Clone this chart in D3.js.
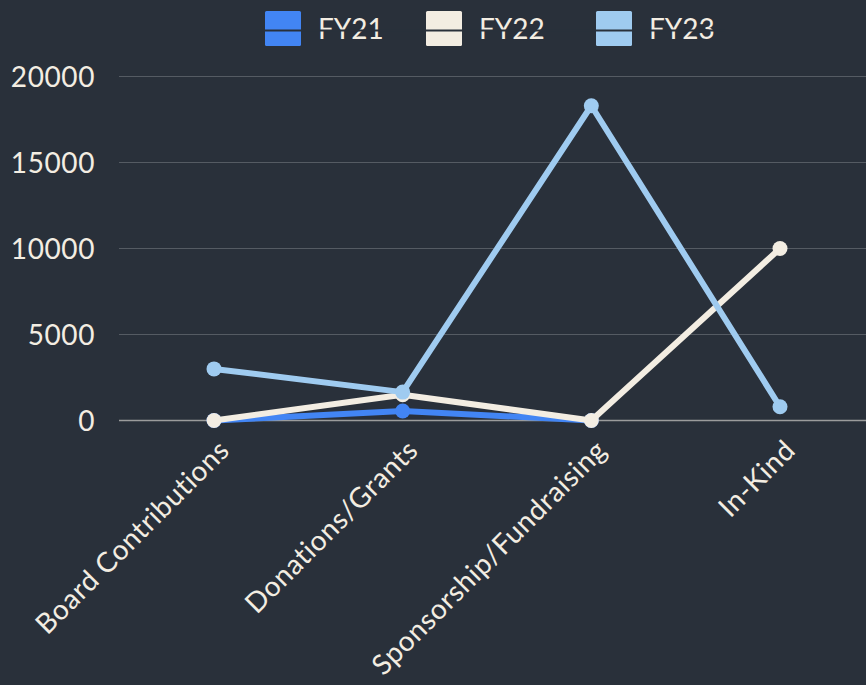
<!DOCTYPE html>
<html>
<head>
<meta charset="utf-8">
<script src="https://cdn.jsdelivr.net/npm/d3@7"></script>
<style>
  html, body { margin: 0; padding: 0; background: #29303a; }
  svg { display: block; }
  text { font-family: "Lato", "Noto Sans", sans-serif; fill: #f3ede2; }
</style>
</head>
<body>
<svg id="chart" width="866" height="685"></svg>
<script>
const categories = ["Board Contributions", "Donations/Grants", "Sponsorship/Fundraising", "In-Kind"];
const seriesNames = ["FY21", "FY22", "FY23"];
const fy21 = [0, 550, 0, null];
const fy22 = [0, 1500, 0, 10000];
const fy23 = [3000, 1650, 18300, 800];
const yTicks = [0, 5000, 10000, 15000, 20000];
const colors = ["#4285f4", "#f3ede2", "#9fcbf0"];

const series = [fy21, fy22, fy23].map((vals, i) => ({ name: seriesNames[i], values: vals, color: colors[i] }));

const W = 866, H = 685;
const svg = d3.select("#chart");
svg.append("rect").attr("width", W).attr("height", H).attr("fill", "#29303a");

const x = d3.scalePoint().domain(categories).range([214, 780]);
const y = d3.scaleLinear().domain([0, 20000]).range([420.5, 76.5]);

// gridlines
const grid = svg.append("g");
grid.selectAll("line").data(yTicks).join("line")
  .attr("x1", 119).attr("x2", W)
  .attr("y1", d => y(d)).attr("y2", d => y(d))
  .attr("stroke", d => d === 0 ? "#9b9c9c" : "#555b63")
  .attr("stroke-width", d => d === 0 ? 1.5 : 1.2);

// y axis labels
const yAxis = d3.axisLeft(y).tickValues(yTicks).tickSize(0).tickPadding(0).tickFormat(d3.format("d"));
const yg = svg.append("g").attr("transform", "translate(95,0)").call(yAxis);
yg.select(".domain").remove();
yg.selectAll("text").attr("font-size", 28).attr("fill", "#f3ede2")
  .style("font-family", "Lato, 'Noto Sans', sans-serif")
  .style("letter-spacing", "0.6px")
  .attr("dy", "0.35em");

// x axis labels
const xAxis = d3.axisBottom(x).tickSize(0).tickPadding(0);
const xg = svg.append("g").call(xAxis);
xg.select(".domain").remove();
xg.selectAll(".tick").attr("transform", d => `translate(${x(d) + 17},452)`);
xg.selectAll("text")
  .attr("y", 0).attr("dy", 0).attr("x", 0)
  .attr("text-anchor", "end")
  .attr("transform", "rotate(-45)")
  .attr("font-size", 28).attr("fill", "#f3ede2")
  .style("font-family", "Lato, 'Noto Sans', sans-serif")
  .style("letter-spacing", "0.6px");

// lines
const line = d3.line()
  .defined(d => d.v !== null)
  .x(d => x(d.c)).y(d => y(d.v));

series.forEach(s => {
  const pts = s.values.map((v, i) => ({ c: categories[i], v }));
  svg.append("path").datum(pts)
    .attr("d", line)
    .attr("fill", "none")
    .attr("stroke", s.color)
    .attr("stroke-width", 6)
    .attr("stroke-linejoin", "round");
  svg.append("g").selectAll("circle").data(pts.filter(d => d.v !== null)).join("circle")
    .attr("cx", d => x(d.c)).attr("cy", d => y(d.v)).attr("r", 7.5)
    .attr("fill", s.color);
});

// legend
const legendX = [265, 426, 596];
const lg = svg.append("g");
series.forEach((s, i) => {
  const g = lg.append("g").attr("transform", `translate(${legendX[i]},11)`);
  g.append("rect").attr("width", 36).attr("height", 35).attr("rx", 1.5)
    .attr("fill", s.color);
  g.append("text").attr("x", 53).attr("y", 28).attr("font-size", 28)
    .text(s.name);
});
lg.append("line").attr("x1", 255).attr("x2", 725).attr("y1", 30.5).attr("y2", 30.5)
  .attr("stroke", "#29303a").attr("stroke-width", 2);
</script>
</body>
</html>
